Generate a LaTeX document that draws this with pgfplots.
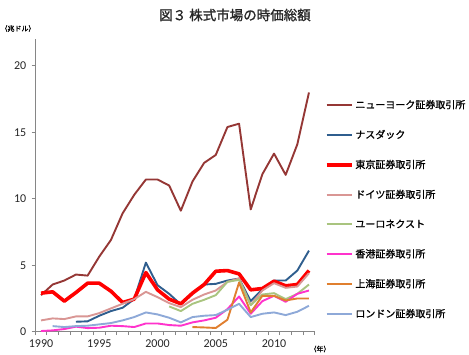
\documentclass[border=0pt]{standalone}
\usepackage{fontspec}
\setmainfont{Carlito}
\newfontfamily\jp{Noto Sans CJK JP}
\newfontfamily\jpb[FakeBold=1.2]{Noto Sans CJK JP}
\usepackage{pgfplots}
\pgfplotsset{compat=1.18}
\definecolor{nyse}{HTML}{953735}
\definecolor{nasdaq}{HTML}{2F5E8E}
\definecolor{tokyo}{HTML}{FF0000}
\definecolor{germany}{HTML}{D99694}
\definecolor{euronext}{HTML}{A9C47F}
\definecolor{hk}{HTML}{FF33CC}
\definecolor{shanghai}{HTML}{E07F2F}
\definecolor{london}{HTML}{8EA9D8}
\definecolor{axisgray}{HTML}{868686}
\begin{document}
\begin{tikzpicture}
\useasboundingbox (0,0) rectangle (469bp,355bp);
\node[font=\jpb\fontsize{13.5bp}{14bp}\selectfont, text=black!85] at (235bp,340bp) {図３ 株式市場の時価総額};
\node[font=\jpb\fontsize{7bp}{8bp}\selectfont] at (18bp,326.5bp) {（兆ドル）};
\node[font=\jpb\fontsize{7bp}{8bp}\selectfont, anchor=west] at (306bp,6bp) {（年）};
\begin{axis}[
  at={(35.2bp,23.3bp)}, anchor=south west,
  scale only axis, width=279.6bp, height=292.4bp,
  xmin=1989.5, xmax=2013.5, ymin=0, ymax=22,
  axis x line=bottom, axis y line=left,
  axis line style={axisgray, line width=0.9bp, -},
  xtick={1990,1995,2000,2005,2010},
  minor xtick={1989.5,1990.5,...,2013.5},
  ytick={0,5,10,15,20},
  major x tick style={draw=none},
  minor tick length=3.5bp,
  major tick length=3.5bp,
  tick style={axisgray, line width=0.8bp},
  xtick align=outside, ytick align=outside,
  tick label style={font=\fontsize{12bp}{13bp}\selectfont, text=black!85},
  /pgf/number format/assume math mode=true,
  x tick label style={/pgf/number format/1000 sep={}, yshift=-1bp},
  y tick label style={xshift=-2bp},
  clip=false,
  legend style={at={(1.035,0.80)}, anchor=north west, draw=none, fill=none,
    font=\jpb\fontsize{10bp}{10.5bp}\selectfont, row sep=16bp, inner sep=0pt},
  legend cell align=left,
  legend image code/.code={\draw[#1] (0bp,0bp) -- (25bp,0bp);},
  every axis plot/.append style={line width=1.9bp, line join=round},
]
\addplot[nyse] coordinates {(1990,2.75)(1991,3.55)(1992,3.85)(1993,4.3)(1994,4.22)(1995,5.65)(1996,6.9)(1997,8.9)(1998,10.3)(1999,11.45)(2000,11.45)(2001,11.0)(2002,9.1)(2003,11.3)(2004,12.7)(2005,13.3)(2006,15.4)(2007,15.65)(2008,9.2)(2009,11.85)(2010,13.4)(2011,11.8)(2012,14.1)(2013,18.0)};
\addlegendentry{ニューヨーク証券取引所}
\addplot[nasdaq] coordinates {(1993,0.75)(1994,0.78)(1995,1.2)(1996,1.55)(1997,1.8)(1998,2.45)(1999,5.2)(2000,3.5)(2001,2.85)(2002,2.05)(2003,2.85)(2004,3.55)(2005,3.6)(2006,3.85)(2007,4.0)(2008,2.3)(2009,3.2)(2010,3.85)(2011,3.85)(2012,4.6)(2013,6.1)};
\addlegendentry{ナスダック}
\addplot[tokyo, line width=3.6bp] coordinates {(1990,2.9)(1991,3.0)(1992,2.3)(1993,2.95)(1994,3.65)(1995,3.65)(1996,3.05)(1997,2.2)(1998,2.45)(1999,4.45)(2000,3.15)(2001,2.45)(2002,2.1)(2003,2.9)(2004,3.55)(2005,4.55)(2006,4.6)(2007,4.35)(2008,3.15)(2009,3.25)(2010,3.8)(2011,3.45)(2012,3.55)(2013,4.6)};
\addlegendentry{東京証券取引所}
\addplot[germany] coordinates {(1990,0.85)(1991,1.0)(1992,0.95)(1993,1.15)(1994,1.15)(1995,1.4)(1996,1.75)(1997,2.1)(1998,2.45)(1999,3.0)(2000,2.6)(2001,2.15)(2002,1.85)(2003,2.4)(2004,2.8)(2005,3.1)(2006,3.75)(2007,4.0)(2008,2.0)(2009,3.1)(2010,3.65)(2011,3.3)(2012,3.4)(2013,4.4)};
\addlegendentry{ドイツ証券取引所}
\addplot[euronext] coordinates {(2001,1.9)(2002,1.55)(2003,2.1)(2004,2.4)(2005,2.75)(2006,3.75)(2007,3.9)(2008,2.0)(2009,2.8)(2010,2.9)(2011,2.45)(2012,2.85)(2013,3.55)};
\addlegendentry{ユーロネクスト}
\addplot[hk] coordinates {(1990,0.05)(1991,0.1)(1992,0.2)(1993,0.38)(1994,0.27)(1995,0.3)(1996,0.45)(1997,0.42)(1998,0.35)(1999,0.62)(2000,0.62)(2001,0.5)(2002,0.45)(2003,0.7)(2004,0.85)(2005,1.05)(2006,1.7)(2007,2.65)(2008,1.35)(2009,2.3)(2010,2.7)(2011,2.25)(2012,2.85)(2013,3.1)};
\addlegendentry{香港証券取引所}
\addplot[shanghai] coordinates {(2003,0.35)(2004,0.32)(2005,0.28)(2006,0.9)(2007,3.7)(2008,1.45)(2009,2.7)(2010,2.7)(2011,2.35)(2012,2.5)(2013,2.5)};
\addlegendentry{上海証券取引所}
\addplot[london] coordinates {(1991,0.42)(1992,0.35)(1993,0.42)(1994,0.45)(1995,0.55)(1996,0.65)(1997,0.85)(1998,1.1)(1999,1.45)(2000,1.3)(2001,1.05)(2002,0.7)(2003,1.1)(2004,1.2)(2005,1.25)(2006,1.65)(2007,2.1)(2008,1.1)(2009,1.35)(2010,1.45)(2011,1.25)(2012,1.5)(2013,1.95)};
\addlegendentry{ロンドン証券取引所}
\end{axis}
\end{tikzpicture}
\end{document}
